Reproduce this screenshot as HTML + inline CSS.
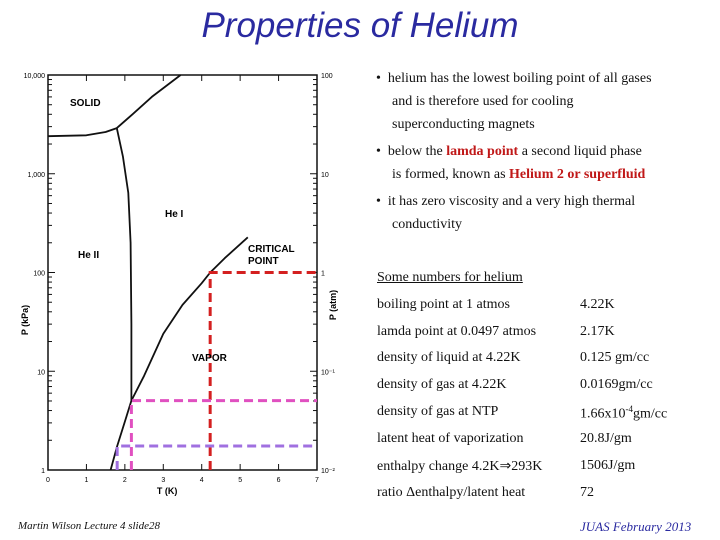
<!DOCTYPE html>
<html><head><meta charset="utf-8"><style>
body{margin:0;width:720px;height:540px;background:#fff;position:relative;overflow:hidden;font-family:"Liberation Serif",serif;}
.t{position:absolute;white-space:nowrap;font-size:14px;color:#111;}
.r{color:#c01818;font-weight:bold;}
</style></head><body>
<div class="t" style="left:0;width:720px;text-align:center;top:6px;font-family:'Liberation Sans',sans-serif;font-style:italic;font-size:35px;color:#2a2aa0;">Properties of Helium</div>
<svg id="chart" width="360" height="500" style="position:absolute;left:0;top:0" font-family="Liberation Sans, sans-serif"></svg>
<div>
<div class="t" style="left:376px;top:71px">•&nbsp; helium has the lowest boiling point of all gases</div>
<div class="t" style="left:392px;top:94px">and is therefore used for cooling</div>
<div class="t" style="left:392px;top:117px">superconducting magnets</div>
<div class="t" style="left:376px;top:144px">•&nbsp; below the <span class="r">lamda point</span> a second liquid phase</div>
<div class="t" style="left:392px;top:167px">is formed, known as <span class="r">Helium 2 or superfluid</span></div>
<div class="t" style="left:376px;top:194px">•&nbsp; it has zero viscosity and a very high thermal</div>
<div class="t" style="left:392px;top:217px">conductivity</div>
</div>
<div class="t" style="left:377px;top:270px;text-decoration:underline">Some numbers for helium</div>
<div>
<div class="t" style="left:377px;top:297px">boiling point at 1 atmos</div><div class="t" style="left:580px;top:297px">4.22K</div>
<div class="t" style="left:377px;top:324px">lamda point at 0.0497 atmos</div><div class="t" style="left:580px;top:324px">2.17K</div>
<div class="t" style="left:377px;top:350px">density of liquid at 4.22K</div><div class="t" style="left:580px;top:350px">0.125 gm/cc</div>
<div class="t" style="left:377px;top:377px">density of gas at 4.22K</div><div class="t" style="left:580px;top:377px">0.0169gm/cc</div>
<div class="t" style="left:377px;top:404px">density of gas at NTP</div><div class="t" style="left:580px;top:404px">1.66x10<sup style="font-size:9px">-4</sup>gm/cc</div>
<div class="t" style="left:377px;top:431px">latent heat of vaporization</div><div class="t" style="left:580px;top:431px">20.8J/gm</div>
<div class="t" style="left:377px;top:458px">enthalpy change 4.2K⇒293K</div><div class="t" style="left:580px;top:458px">1506J/gm</div>
<div class="t" style="left:377px;top:485px">ratio Δenthalpy/latent heat</div><div class="t" style="left:580px;top:485px">72</div>
</div>
<div class="t" style="left:18px;top:520px;font-size:11px;font-style:italic">Martin Wilson Lecture 4 slide28</div>
<div class="t" style="left:580px;top:519px;font-size:13px;font-style:italic;color:#2a2aa0">JUAS February 2013</div>
<script>
const leftTicks=["1","10","100","1,000","10,000"];
const rightTicks=["10⁻²","10⁻¹","1","10","100"];
const xTicks=[0,1,2,3,4,5,6,7];
const meltT=[0,1,1.5,1.79,2.2,2.7,3.45];
const meltP=[2400,2450,2650,2900,4000,6000,10000];
const lambdaT=[1.79,1.95,2.09,2.15,2.17,2.17];
const lambdaP=[2900,1500,640,200,30,5.04];
const vapT=[1.63,1.8,2.0,2.17,2.5,3,3.5,4,4.22,4.6,5.2];
const vapP=[1,1.75,3.1,5.04,9,24,47,78,100,140,227];
const guideT=[4.22,2.17,1.8];
const guideP=[100,5.04,1.75];
const guideColors=["#d42020","#e050c0","#a070e0"];
const NS="http://www.w3.org/2000/svg",svg=document.getElementById('chart');
const X0=48,X1=317,Y0=470,DEC=98.75;
const xs=t=>X0+t*(X1-X0)/7, ys=p=>Y0-Math.log10(p)*DEC;
function mk(tag,a,txt){const e=document.createElementNS(NS,tag);for(const k in a)e.setAttribute(k,a[k]);if(txt!=null)e.textContent=txt;svg.appendChild(e);return e;}
let e=mk('rect',{x:X0,y:ys(10000),width:X1-X0,height:Y0-ys(10000),fill:'none',stroke:'#111','stroke-width':1.5});

for(let d=0;d<4;d++)for(let m=2;m<=9;m++){const y=ys(Math.pow(10,d)*m);mk('line',{x1:X0,x2:X0+4,y1:y,y2:y,stroke:'#111'});mk('line',{x1:X1,x2:X1-4,y1:y,y2:y,stroke:'#111'});}
leftTicks.forEach((l,i)=>{const y=ys(Math.pow(10,i));mk('line',{x1:X0,x2:X0+7,y1:y,y2:y,stroke:'#111'});mk('line',{x1:X1,x2:X1-7,y1:y,y2:y,stroke:'#111'});
e=mk('text',{x:X0-3,y:y+3,'font-size':7,'text-anchor':'end'},l);
e=mk('text',{x:X1+4,y:y+3,'font-size':7},rightTicks[i]);});
xTicks.forEach(t=>{const x=xs(t);mk('line',{x1:x,x2:x,y1:Y0,y2:Y0-6,stroke:'#111'});mk('line',{x1:x,x2:x,y1:ys(10000),y2:ys(10000)+6,stroke:'#111'});
e=mk('text',{x:x,y:Y0+12,'font-size':7,'text-anchor':'middle'},t);});
e=mk('text',{x:xs(3.1),y:Y0+24,'font-size':9,'font-weight':'bold','text-anchor':'middle'},'T (K)');
e=mk('text',{x:0,y:0,'font-size':9,'font-weight':'bold','text-anchor':'middle',transform:'translate(28,320) rotate(-90)'},'P  (kPa)');
e=mk('text',{x:0,y:0,'font-size':9,'font-weight':'bold','text-anchor':'middle',transform:'translate(336,305) rotate(-90)'},'P  (atm)');
const pth=(T,P)=>T.map((t,i)=>(i?'L':'M')+xs(t).toFixed(1)+','+ys(P[i]).toFixed(1)).join(' ');
[[meltT,meltP,'melting-curve'],[lambdaT,lambdaP,'lambda-line'],[vapT,vapP,'vapor-pressure-curve']].forEach(([T,P,n])=>{e=mk('path',{d:pth(T,P),fill:'none',stroke:'#111','stroke-width':1.8,'stroke-linejoin':'round'});});
guideT.forEach((t,i)=>{const d=`M${xs(t)},${Y0} L${xs(t)},${ys(guideP[i])} L${X1},${ys(guideP[i])}`;
e=mk('path',{d:d,fill:'none',stroke:guideColors[i],'stroke-width':3,'stroke-dasharray':'9,5'});});
[['SOLID',70,106],['He I',165,217],['He II',78,258],['CRITICAL',248,252],['POINT',248,264],['VAPOR',192,361]].forEach(([s,x,y])=>{e=mk('text',{x:x,y:y,'font-size':10,'font-weight':'bold'},s);});
</script>
</body></html>
